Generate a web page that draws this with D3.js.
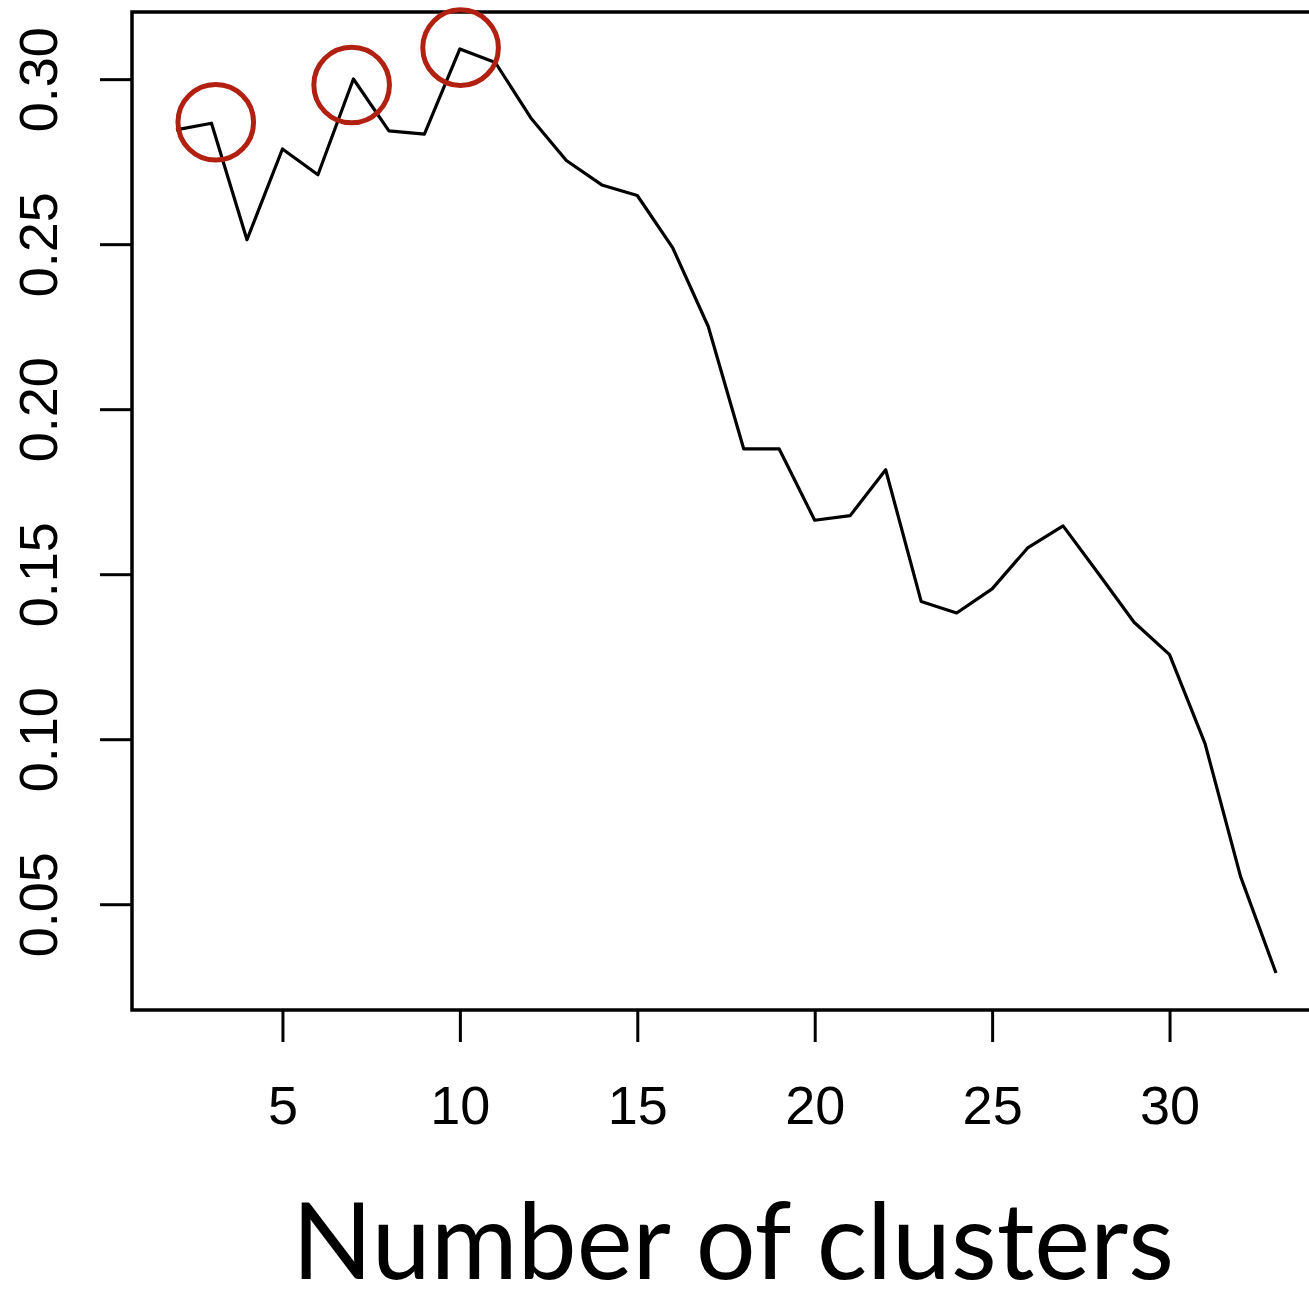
<!DOCTYPE html>
<html>
<head>
<meta charset="utf-8">
<script src="https://cdn.jsdelivr.net/npm/d3@7"></script>
<style>
  body { margin: 0; background: #fff; }
  svg { display: block; }
</style>
</head>
<body>
<main></main>
<script>
// data
const clusters = [2, 3, 4, 5, 6, 7, 8, 9, 10, 11, 12, 13, 14, 15, 16, 17,
  18, 19, 20, 21, 22, 23, 24, 25, 26, 27, 28, 29, 30, 31, 32, 33];
const scores = [0.2848, 0.2868, 0.2515, 0.2790, 0.2712, 0.3002, 0.2845, 0.2835,
  0.3093, 0.3052, 0.2884, 0.2755, 0.2681, 0.2649, 0.2490, 0.2252,
  0.1881, 0.1881, 0.1665, 0.1679, 0.1818, 0.1419, 0.1384, 0.1457,
  0.1581, 0.1648, 0.1503, 0.1356, 0.1258, 0.0988, 0.0586, 0.0293];

const xTicks = [5, 10, 15, 20, 25, 30];
const yTicks = [0.05, 0.10, 0.15, 0.20, 0.25, 0.30];

// hand-drawn highlight rings (data units)
const ringX = [3.12, 6.95, 10.02];
const ringY = [0.2871, 0.2984, 0.3097];

const xLabel = 'Number of clusters';

const w = 1309;
const h = 1292;
// plot box in pixels
const box = { left: 132, right: 1320, top: 12, bottom: 1010 };

const svg = d3.select('main').append('svg').attr('width', w).attr('height', h);

// R style: 4% padding around the data range
const pad = (ext) => {
  const d = (ext[1] - ext[0]) * 0.04;
  return [ext[0] - d, ext[1] + d];
};

const x = d3.scaleLinear().domain(pad(d3.extent(clusters))).range([box.left, box.right]);
const y = d3.scaleLinear().domain(pad(d3.extent(scores))).range([box.bottom, box.top]);

const data = clusters.map((k, i) => ({ k, v: scores[i] }));

// box
svg
  .append('rect')
  .attr('x', box.left)
  .attr('y', box.top)
  .attr('width', box.right - box.left)
  .attr('height', box.bottom - box.top)
  .attr('fill', 'none')
  .attr('stroke', '#000')
  .attr('stroke-width', 3.5);

// x axis
const xAxis = svg
  .append('g')
  .attr('transform', `translate(0,${box.bottom})`)
  .call(d3.axisBottom(x).tickValues(xTicks).tickSize(32).tickPadding(44).tickSizeOuter(0));
xAxis.select('.domain').remove();
xAxis.selectAll('line').attr('stroke', '#000').attr('stroke-width', 3);
xAxis
  .selectAll('text')
  .attr('fill', '#000')
  .style('font-family', '"Liberation Sans", Arial, sans-serif')
  .style('font-size', '54px');

// y axis, labels rotated as in R
const yAxis = svg
  .append('g')
  .attr('transform', `translate(${box.left},0)`)
  .call(d3.axisLeft(y).tickValues(yTicks).tickSize(32).tickFormat(d3.format('.2f')).tickSizeOuter(0));
yAxis.select('.domain').remove();
yAxis.selectAll('line').attr('stroke', '#000').attr('stroke-width', 3);
yAxis
  .selectAll('text')
  .attr('x', null)
  .attr('dy', null)
  .attr('fill', '#000')
  .attr('text-anchor', 'middle')
  .attr('transform', (d) => `translate(${57 - box.left},${y(d)}) rotate(-90)`)
  .attr('y', 0)
  .style('font-family', '"Liberation Sans", Arial, sans-serif')
  .style('font-size', '54px');
yAxis.selectAll('.tick').attr('transform', null);
yAxis.selectAll('.tick line').attr('y1', (d) => y(d)).attr('y2', (d) => y(d));

// line
const line = d3
  .line()
  .x((d) => x(d.k))
  .y((d) => y(d.v));

svg
  .append('path')
  .datum(data)
  .attr('d', line)
  .attr('fill', 'none')
  .attr('stroke', '#000')
  .attr('stroke-width', 3.2)
  .attr('stroke-linejoin', 'round');

// highlight rings
svg
  .selectAll('circle.ring')
  .data(ringX.map((k, i) => ({ k, v: ringY[i] })))
  .enter()
  .append('circle')
  .attr('class', 'ring')
  .attr('cx', (d) => x(d.k))
  .attr('cy', (d) => y(d.v))
  .attr('r', 37.8)
  .attr('fill', 'none')
  .attr('stroke', '#b22012')
  .attr('stroke-width', 5);

// x title
svg
  .append('text')
  .attr('x', 733)
  .attr('y', 1279)
  .attr('text-anchor', 'middle')
  .attr('textLength', 882)
  .attr('lengthAdjust', 'spacingAndGlyphs')
  .style('font-family', 'Lato, "Open Sans", sans-serif')
  .style('font-size', '107px')
  .text(xLabel);
</script>
</body>
</html>
